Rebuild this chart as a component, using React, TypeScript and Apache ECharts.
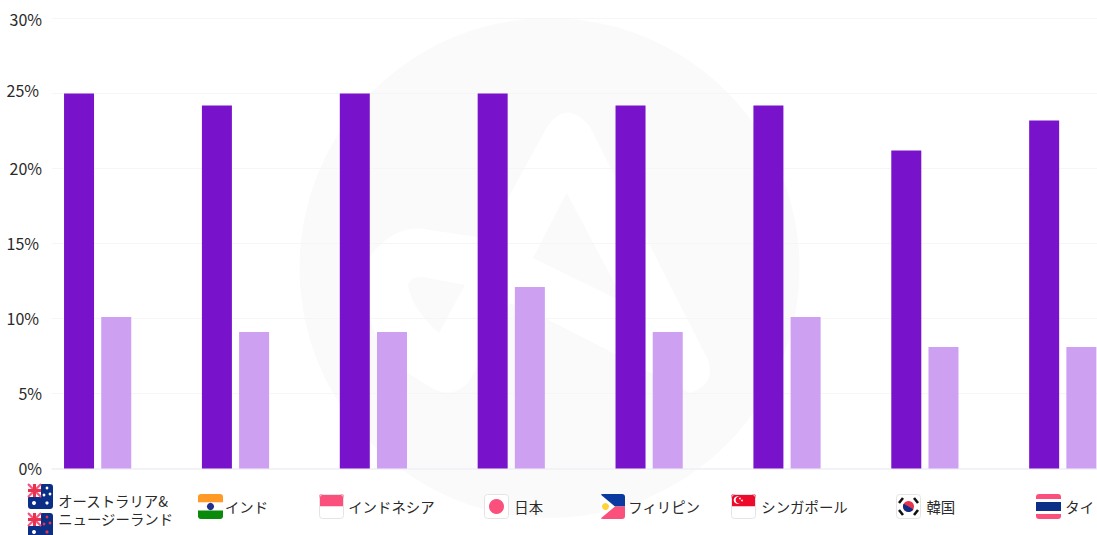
import React, { useEffect, useRef } from "react";
import * as echarts from "echarts";

const categories = ["オーストラリア&\nニュージーランド", "インド", "インドネシア", "日本", "フィリピン", "シンガポール", "韓国", "タイ"];
const darkValues = [25, 24.2, 25, 25, 24.2, 24.2, 21.2, 23.2];
const lightValues = [10.1, 9.1, 9.1, 12.1, 9.1, 10.1, 8.1, 8.1];
const labelShift = [15.5, 11, 18, 17.5, 15, 17.5, 16, 17];
const flagX = [28, 198, 319, 484, 600, 731, 896, 1036];

const DARK = "#7813CB";
const LIGHT = "#CEA0F2";
const PINK = "#FB4F7C";
const NAVY = "#0B2F86";
const TEXT = "#2A2A2A";
const FONT = '"Noto Sans CJK JP", "Noto Sans", sans-serif';

echarts.graphic.registerShape(
  "wmLogo",
  echarts.graphic.extendPath(
    "M547 127 Q567 98 590 127 L708 360 Q716 385 690 393 L613 353 L543 317 L510 303 L470 380 Q455 400 432 388 L403 370 Q355 330 370 257 Q395 222 430 230 L477 237 L507 200 Z " +
      "M566.7 192.7 L533 258 L625 303 Z " +
      "M465 285 L423 277 Q405 277 409 290 Q415 312 439 333 Z",
    {}
  )
);

const rect = (x: number, y: number, w: number, h: number, fill: string, r: any = 0) => ({
  type: "rect",
  shape: { x, y, width: w, height: h, r },
  style: { fill },
});
const circle = (cx: number, cy: number, r: number, fill: string) => ({
  type: "circle",
  shape: { cx, cy, r },
  style: { fill },
});
const poly = (points: number[][], fill: string) => ({
  type: "polygon",
  shape: { points },
  style: { fill },
});
const line = (x1: number, y1: number, x2: number, y2: number, stroke: string, lineWidth: number) => ({
  type: "line",
  shape: { x1, y1, x2, y2 },
  style: { stroke, lineWidth },
});
const frame = (x: number, y: number, s: number) => ({
  type: "rect",
  shape: { x: x + 0.5, y: y + 0.5, width: s - 1, height: s - 1, r: 3 },
  style: { fill: "none", stroke: "#e4e4e4", lineWidth: 1 },
});

const ozFlag = (x: number, y: number, star: string) => [
  rect(x, y, 25, 25, "#0B2F86", 3),
  rect(x, y, 13, 13, "#F2F2F7", [3, 0, 0, 0]),
  line(x, y, x + 13, y + 13, PINK, 2),
  line(x + 13, y, x, y + 13, PINK, 2),
  rect(x + 5, y, 3, 13, "#E8334F"),
  rect(x, y + 5, 13, 3, "#E8334F"),
  circle(x + 6, y + 19, 2, "#fff"),
  circle(x + 19, y + 4, 1.4, star),
  circle(x + 19, y + 19, 1.6, star),
  circle(x + 16, y + 11, 1.4, star),
  circle(x + 22, y + 10, 1.4, star),
];

const flagY = 494;
const flags = [
  ...ozFlag(flagX[0], 484, "#fff"),
  ...ozFlag(flagX[0], 513, "#E8334F"),
  // India
  rect(flagX[1], flagY, 25, 8.5, "#FF9A26", [3, 3, 0, 0]),
  rect(flagX[1], flagY + 8.5, 25, 8, "#fff"),
  rect(flagX[1], flagY + 16.5, 25, 8.5, "#0A8A0A", [0, 0, 3, 3]),
  circle(flagX[1] + 12.5, flagY + 12.5, 3.6, "#1E2F90"),
  // Indonesia
  rect(flagX[2], flagY, 25, 12.5, PINK, [3, 3, 0, 0]),
  rect(flagX[2], flagY + 12.5, 25, 12.5, "#fff", [0, 0, 3, 3]),
  frame(flagX[2], flagY, 25),
  // Japan
  rect(flagX[3], flagY, 25, 25, "#fff", 3),
  frame(flagX[3], flagY, 25),
  circle(flagX[3] + 12.5, flagY + 12.5, 7.5, PINK),
  // Philippines
  rect(flagX[4], flagY, 25, 12.5, "#0A3A9F", [3, 3, 0, 0]),
  rect(flagX[4], flagY + 12.5, 25, 12.5, PINK, [0, 0, 3, 3]),
  poly([[flagX[4], flagY], [flagX[4] + 15, flagY + 12.5], [flagX[4], flagY + 25]], "#fff"),
  circle(flagX[4] + 5.5, flagY + 12.5, 3.5, "#FFD23A"),
  // Singapore
  rect(flagX[5], flagY, 25, 12.5, "#EE0A2B", [3, 3, 0, 0]),
  rect(flagX[5], flagY + 12.5, 25, 12.5, "#fff", [0, 0, 3, 3]),
  frame(flagX[5], flagY, 25),
  circle(flagX[5] + 6.5, flagY + 6, 3.8, "#fff"),
  circle(flagX[5] + 8, flagY + 6, 3.4, "#EE0A2B"),
  circle(flagX[5] + 9, flagY + 4.5, 0.8, "#fff"),
  circle(flagX[5] + 11, flagY + 6.5, 0.8, "#fff"),
  // Korea
  rect(flagX[6], flagY, 25, 25, "#fff", 3),
  frame(flagX[6], flagY, 25),
  circle(flagX[6] + 12.5, flagY + 12.5, 5.5, "#E8334F"),
  {
    type: "sector",
    shape: { cx: flagX[6] + 12.5, cy: flagY + 12.5, r: 5.5, startAngle: 0.5, endAngle: 3.64 },
    style: { fill: "#0B2F86" },
  },
  line(flagX[6] + 3, flagY + 9, flagX[6] + 7, flagY + 4, "#111", 2.6),
  line(flagX[6] + 18, flagY + 4, flagX[6] + 22, flagY + 9, "#111", 2.6),
  line(flagX[6] + 3, flagY + 16, flagX[6] + 7, flagY + 21, "#111", 2.6),
  line(flagX[6] + 18, flagY + 21, flagX[6] + 22, flagY + 16, "#111", 2.6),
  // Thailand
  rect(flagX[7], flagY, 25, 5, PINK, [3, 3, 0, 0]),
  rect(flagX[7], flagY + 5, 25, 3, "#fff"),
  rect(flagX[7], flagY + 8, 25, 9, NAVY),
  rect(flagX[7], flagY + 17, 25, 3, "#fff"),
  rect(flagX[7], flagY + 20, 25, 5, PINK, [0, 0, 3, 3]),
];

const yBase = { fontSize: 16, color: TEXT, fontFamily: FONT };
const yRich: any = {
  top: { ...yBase },
  a: { ...yBase, padding: [0, 0, 2, 0] },
  s: { ...yBase, padding: [0, 3, 2, 0] },
  u: { ...yBase, padding: [0, 3, 8, 0] },
};
const yStyle: Record<number, string> = { 0: "a", 5: "a", 10: "s", 15: "s", 20: "a", 25: "u", 30: "top" };

const xBase = { fontSize: 14.4, lineHeight: 18, color: TEXT, fontFamily: FONT };
const xRich: any = {};
labelShift.forEach((shift, i) => {
  xRich[`c${i}`] = { ...xBase, padding: i === 0 ? [0, 0, 0, shift * 2] : [12, 0, 0, shift * 2] };
});
xRich.c0b = { ...xBase, padding: [0, 0, 0, 36] };

const CANVAS_W = 1200;

export default function App() {
  const ref = useRef<HTMLDivElement>(null);
  useEffect(() => {
    document.body.style.margin = "0";
    const chart = echarts.init(ref.current!, null, { renderer: "svg" });
    chart.setOption({
      animation: false,
      backgroundColor: "#fff",
      grid: [
        { left: 52, right: CANVAS_W - 1097, top: 18.5, height: 450 },
        { left: 28.7, width: 1103, top: 18.5, height: 450 },
      ],
      xAxis: [
        {
          gridIndex: 0,
          type: "category",
          data: categories,
          axisLine: { show: true, lineStyle: { color: "#F1F1F6", width: 1.5 } },
          axisTick: { show: false },
          axisLabel: { show: false },
        },
        {
          gridIndex: 1,
          type: "category",
          data: categories,
          axisLine: { show: false },
          axisTick: { show: false },
          axisLabel: {
            interval: 0,
            margin: 23,
            formatter: (value: string) => {
              const i = categories.indexOf(value);
              const parts = value.split("\n");
              return parts.length > 1
                ? `{c${i}|${parts[0]}}\n{c${i}b|${parts[1]}}`
                : `{c${i}|${value}}`;
            },
            rich: xRich,
          },
        },
      ],
      yAxis: [
        {
          gridIndex: 0,
          type: "value",
          min: 0,
          max: 30,
          interval: 5,
          axisLine: { show: false },
          axisTick: { show: false },
          splitLine: { lineStyle: { color: "#F6F6F6", width: 1 } },
          axisLabel: {
            margin: 10,
            fontSize: 16,
            color: TEXT,
            fontFamily: FONT,
            formatter: (v: number) => `{${yStyle[v]}|${v}%}`,
            rich: yRich,
          },
        },
        { gridIndex: 1, type: "value", min: 0, max: 30, interval: 5, show: false },
      ],
      series: [
        {
          name: "濃色",
          type: "bar",
          xAxisIndex: 1,
          yAxisIndex: 1,
          data: darkValues,
          barWidth: 30,
          barGap: "24%",
          itemStyle: { color: DARK },
        },
        {
          name: "淡色",
          type: "bar",
          xAxisIndex: 1,
          yAxisIndex: 1,
          data: lightValues,
          barWidth: 30,
          itemStyle: { color: LIGHT },
        },
      ],
      graphic: [
        { type: "circle", z: -2, silent: true, shape: { cx: 549.5, cy: 268, r: 250 }, style: { fill: "#FAFAFA" } },
        { type: "wmLogo", z: -1, silent: true, x: 0, y: 0, style: { fill: "#FFFFFF" } },
        { type: "group", children: flags },
      ],
    });
    return () => chart.dispose();
  }, []);
  return (
    <div style={{ position: "absolute", left: 0, top: 0, width: 1097, height: 535, overflow: "hidden" }}>
      <div ref={ref} style={{ width: CANVAS_W, height: 535 }} />
    </div>
  );
}
